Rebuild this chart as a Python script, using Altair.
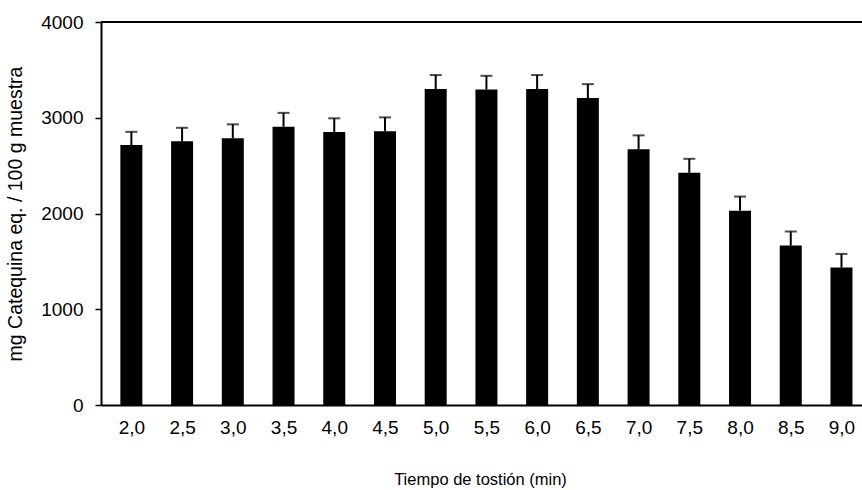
import altair as alt
import pandas as pd

# Tiempo de tostión (min)
tiempos = [2.0, 2.5, 3.0, 3.5, 4.0, 4.5, 5.0, 5.5, 6.0, 6.5, 7.0, 7.5, 8.0, 8.5, 9.0]
# mg Catequina eq. / 100 g muestra
valores = [2715, 2755, 2785, 2905, 2850, 2860, 3300, 3295, 3300, 3205, 2670, 2425, 2030, 1665, 1435]
# desviación (barra de error superior)
errores = [138, 140, 146, 146, 144, 144, 146, 143, 146, 146, 146, 146, 147, 147, 143]
y_ticks = [0, 1000, 2000, 3000, 4000]

df = pd.DataFrame({"t": tiempos, "v": valores, "e": errores})

FONT = "Liberation Sans"
W, H = 761, 383

base = alt.Chart(df).transform_calculate(hi="datum.v + datum.e")

xscale = alt.Scale(domain=[1.75, 9.153], nice=False, zero=False)
yscale = alt.Scale(domain=[0, 4000], nice=False)

bars = base.mark_bar(size=22, color="black").encode(
    x=alt.X("t:Q", scale=xscale, axis=alt.Axis(
        values=tiempos,
        labelExpr="replace(format(datum.value, '.1f'), '.', ',')",
        ticks=False, tickSize=0, grid=False,
        domainColor="black", domainWidth=2,
        labelFont=FONT, labelFontSize=19, labelColor="black", labelPadding=13,
        title="Tiempo de tostión (min)", titleFont=FONT, titleFontSize=16.5,
        titleFontWeight="normal", titleColor="black",
        titleX=379, titleY=74, titleBaseline="middle", titleAlign="center")),
    y=alt.Y("v:Q", scale=yscale, axis=alt.Axis(
        values=y_ticks, format="d", grid=False,
        tickSize=6, tickWidth=1.5, tickColor="black",
        domainColor="black", domainWidth=2,
        labelFont=FONT, labelFontSize=19, labelColor="black", labelPadding=12,
        title="mg Catequina eq. / 100 g muestra", titleFont=FONT, titleFontSize=19.5,
        titleFontWeight="normal", titleColor="black",
        titleX=-86, titleY=H / 2, titleAngle=-90,
        titleBaseline="middle", titleAlign="center")),
)

err = base.mark_rule(color="black", strokeWidth=2).encode(
    x="t:Q", y="v:Q", y2="hi:Q"
)

caps = base.mark_tick(orient="horizontal", size=12, thickness=2, color="black").encode(
    x="t:Q", y="hi:Q"
)

top = alt.Chart(alt.Data(values=[{}])).mark_rule(color="black", strokeWidth=2).encode(
    x=alt.value(0), x2=alt.value("width"), y=alt.value(0)
)

chart = alt.layer(bars, err, caps, top).properties(
    width=W, height=H,
    padding={"left": 101, "top": 22, "right": 0, "bottom": 85},
    autosize=alt.AutoSizeParams(type="none"),
    background="white",
).configure_view(stroke=None)

chart.save("out.html", embed_options={"renderer": "svg", "actions": False})
